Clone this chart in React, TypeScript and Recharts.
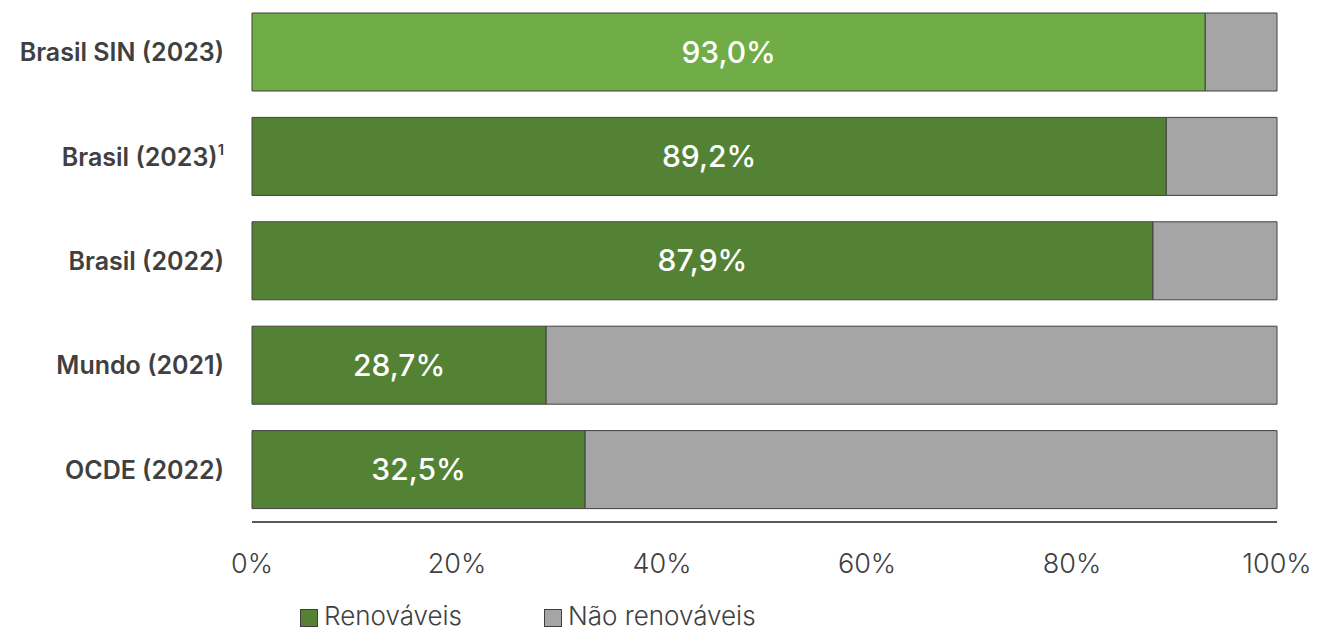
import { BarChart, Bar, XAxis, YAxis, Cell, LabelList, Legend } from 'recharts';

const categories = ['Brasil SIN (2023)', 'Brasil (2023)', 'Brasil (2022)', 'Mundo (2021)', 'OCDE (2022)'];
const footnotes = ['', '1', '', '', ''];
const renovaveis = [93.0, 89.2, 87.9, 28.7, 32.5];
const naoRenovaveis = [7.0, 10.8, 12.1, 71.3, 67.5];
const xTicks = [0, 20, 40, 60, 80, 100];

const data = categories.map((name, i) => ({
    name,
    note: footnotes[i],
    renovaveis: renovaveis[i],
    naoRenovaveis: naoRenovaveis[i],
}));

const GREEN_LIGHT = '#70AD47';
const GREEN = '#548235';
const GRAY = '#A5A5A5';
const EDGE = '#404040';
const TEXT = '#404040';
const FONT = 'Inter, "Noto Sans", sans-serif';

const fmt = (v: number) => v.toFixed(1).replace('.', ',') + '%';

const CategoryTick = (props: any) => {
    const { x, y, payload, index } = props;
    const note = footnotes[index];
    return (
        <text x={x - 20} y={y} dy={9} textAnchor="end" fill={TEXT} fontSize={25} fontWeight={600} fontFamily={FONT}>
            {payload.value}
            {note && (
                <tspan fontSize={15} dy={-11}>
                    {note}
                </tspan>
            )}
        </text>
    );
};

const LegendBox = () => (
    <div style={{ display: 'flex', height: 34, alignItems: 'center', paddingLeft: 300, fontFamily: FONT, fontWeight: 300, fontSize: 26, lineHeight: '32px', color: TEXT }}>
        <span style={{ display: 'inline-block', width: 16, height: 16, background: GREEN, border: `1px solid ${EDGE}`, marginRight: 6, marginTop: 4 }} />
        <span>Renováveis</span>
        <span style={{ display: 'inline-block', width: 16, height: 16, background: GRAY, border: `1px solid ${EDGE}`, marginLeft: 82, marginRight: 6, marginTop: 4 }} />
        <span>Não renováveis</span>
    </div>
);

export default function App() {
    return (
        <div style={{ position: 'absolute', top: 0, left: 0, background: '#fff' }}>
            <BarChart
                width={1319}
                height={633}
                data={data}
                layout="vertical"
                margin={{ top: 0, right: 42, bottom: 0, left: 0 }}
                barSize={78}
            >
                <XAxis
                    type="number"
                    domain={[0, 100]}
                    ticks={xTicks}
                    tickFormatter={(v) => `${v}%`}
                    axisLine={{ stroke: '#595959', strokeWidth: 2 }}
                    tickLine={false}
                    tickMargin={26}
                    height={77}
                    tick={{ fill: TEXT, fontSize: 27, fontWeight: 300, fontFamily: FONT }}
                />
                <YAxis
                    type="category"
                    dataKey="name"
                    width={252}
                    axisLine={false}
                    tickLine={false}
                    tick={<CategoryTick />}
                />
                <Legend verticalAlign="bottom" content={<LegendBox />} />
                <Bar dataKey="renovaveis" stackId="a" fill={GREEN} stroke={EDGE} strokeWidth={1} isAnimationActive={false}>
                    {data.map((d, i) => (
                        <Cell key={`cell-${i}`} fill={i === 0 ? GREEN_LIGHT : GREEN} />
                    ))}
                    <LabelList
                        dataKey="renovaveis"
                        position="center"
                        formatter={(v: any) => fmt(Number(v))}
                        fill="#FFFFFF"
                        fontSize={30}
                        fontWeight={500}
                        fontFamily={FONT}
                    />
                </Bar>
                <Bar dataKey="naoRenovaveis" stackId="a" fill={GRAY} stroke={EDGE} strokeWidth={1} isAnimationActive={false} />
            </BarChart>
        </div>
    );
}
